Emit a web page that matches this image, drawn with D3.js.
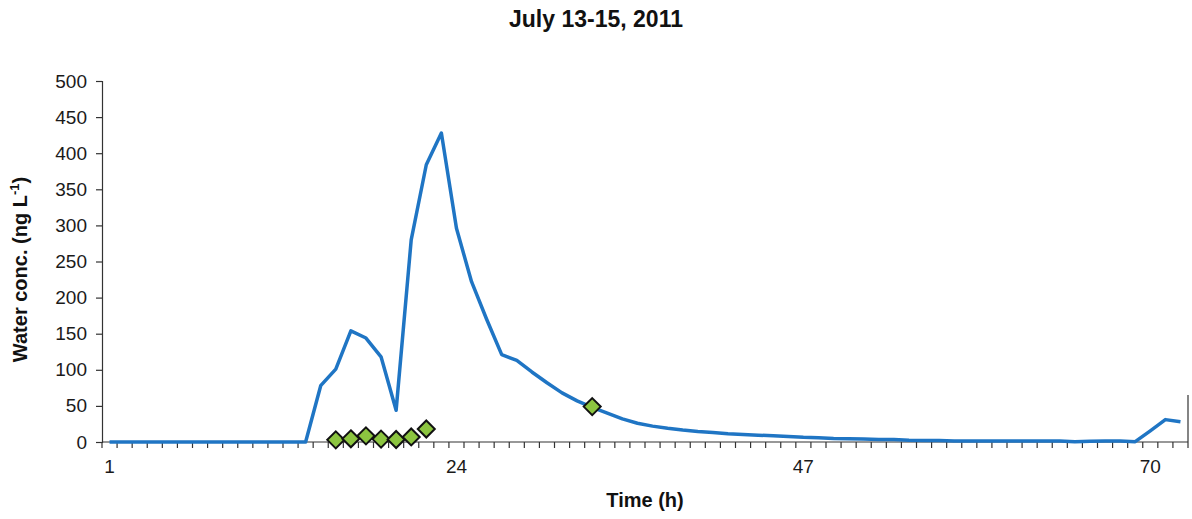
<!DOCTYPE html>
<html>
<head>
<meta charset="utf-8">
<script src="https://cdn.jsdelivr.net/npm/d3@7"></script>
<style>
  body { margin: 0; background: #fff; }
  text { font-family: Arial, "Liberation Sans", sans-serif; }
</style>
</head>
<body>
<div id="chart"></div>
<script>
// hours on the category axis
var hours = d3.range(1, 73);
var tickHours = [1, 24, 47, 70];

// water concentration per hour (ng/L)
var conc = [
  0, 0, 0, 0, 0, 0, 0, 0, 0, 0, 0, 0, 0, 0,
  78, 101, 154, 144, 118, 44, 280, 384, 428, 296,
  222, 170, 121, 113, 97, 82, 68, 57, 48, 40,
  32, 26, 22, 19, 16.5, 14.5, 13, 11.5, 10.5, 9.5,
  8.5, 7.5, 6.5, 6, 5, 4.5, 4, 3.5, 3.5, 2.5,
  2, 2, 1.5, 1.5, 1.5, 1.5, 1.5, 1.5, 1.5, 1.5,
  0.5, 1, 1.5, 1.5, 0.5, 15.5, 31, 28
];

// sampled points (diamonds)
var sampleHours = [16, 17, 18, 19, 20, 21, 22, 33];
var sampleConc = [3, 4.4, 8.5, 4, 3.5, 7, 18, 49];

var yTicks = d3.range(0, 501, 50);

// set the dimensions and margins of the graph
var margin = {top: 81, right: 4, bottom: 77, left: 102},
    width = 1192 - margin.left - margin.right,
    height = 519 - margin.top - margin.bottom;

var root = d3.select("#chart")
  .append("svg")
    .attr("width", 1192)
    .attr("height", 519);

var svg = root.append("g")
    .attr("transform", "translate(" + margin.left + "," + margin.top + ")");

// scales
var x = d3.scaleBand()
  .domain(hours)
  .range([0, width]);
var cx = function(h) { return x(h) + x.bandwidth() / 2; };

var y = d3.scaleLinear()
  .domain([0, 500])
  .range([height, 0]);

// Y axis
var yAxis = svg.append("g")
  .call(d3.axisLeft(y).tickValues(yTicks).tickSize(6).tickPadding(9));
yAxis.select(".domain").attr("stroke", "#333").attr("stroke-width", 1.2);
yAxis.selectAll(".tick line").attr("stroke", "#333").attr("stroke-width", 1.2);
yAxis.selectAll("text")
  .attr("fill", "#1a1a1a")
  .style("font-size", "19px");

// X axis: tick marks between categories
var xAxis = svg.append("g")
  .attr("transform", "translate(0," + height + ")");
xAxis.append("line")
  .attr("x1", 0).attr("x2", width)
  .attr("stroke", "#333").attr("stroke-width", 1.2);
xAxis.selectAll(".xtick")
  .data(hours.concat([hours.length + 1]))
  .enter()
  .append("line")
    .attr("class", "xtick")
    .attr("x1", function(d) { return d <= hours.length ? x(d) : width; })
    .attr("x2", function(d) { return d <= hours.length ? x(d) : width; })
    .attr("y1", 0)
    .attr("y2", 6)
    .attr("stroke", "#333")
    .attr("stroke-width", 1.2);
xAxis.selectAll(".xlabel")
  .data(tickHours)
  .enter()
  .append("text")
    .attr("class", "xlabel")
    .attr("x", function(d) { return cx(d); })
    .attr("y", 31)
    .attr("text-anchor", "middle")
    .attr("fill", "#1a1a1a")
    .style("font-size", "19px")
    .text(function(d) { return d; });

// short right edge line
svg.append("line")
  .attr("x1", width).attr("x2", width)
  .attr("y1", height).attr("y2", y(65))
  .attr("stroke", "#333").attr("stroke-width", 1.2);

// concentration line
var line = d3.line()
  .x(function(d, i) { return cx(hours[i]); })
  .y(function(d) { return y(d); });

svg.append("path")
  .datum(conc)
  .attr("fill", "none")
  .attr("stroke", "#1f75c4")
  .attr("stroke-width", 3.5)
  .attr("stroke-linejoin", "round")
  .attr("d", line);

// diamonds
var r = 8.5;
svg.selectAll(".diamond")
  .data(sampleConc)
  .enter()
  .append("path")
    .attr("class", "diamond")
    .attr("transform", function(d, i) { return "translate(" + cx(sampleHours[i]) + "," + y(d) + ")"; })
    .attr("d", "M0," + (-r) + "L" + r + ",0L0," + r + "L" + (-r) + ",0Z")
    .attr("fill", "#8cc540")
    .attr("stroke", "#111")
    .attr("stroke-width", 2);

// Title
root.append("text")
  .attr("x", 596)
  .attr("y", 27)
  .attr("text-anchor", "middle")
  .style("font-size", "23px")
  .style("font-weight", "bold")
  .attr("fill", "#111")
  .text("July 13-15, 2011");

// axis titles
root.append("text")
  .attr("x", margin.left + width / 2)
  .attr("y", 507)
  .attr("text-anchor", "middle")
  .style("font-size", "20px")
  .style("font-weight", "bold")
  .attr("fill", "#111")
  .text("Time (h)");

var yl = root.append("text")
  .attr("transform", "translate(27," + (margin.top + height / 2 + 8) + ")rotate(-90)")
  .attr("text-anchor", "middle")
  .style("font-size", "20px")
  .style("font-weight", "bold")
  .attr("fill", "#111");
yl.append("tspan").text("Water conc. (ng L");
yl.append("tspan").attr("dy", -8).style("font-size", "13px").text("-1");
yl.append("tspan").attr("dy", 8).text(")");
</script>
</body>
</html>
